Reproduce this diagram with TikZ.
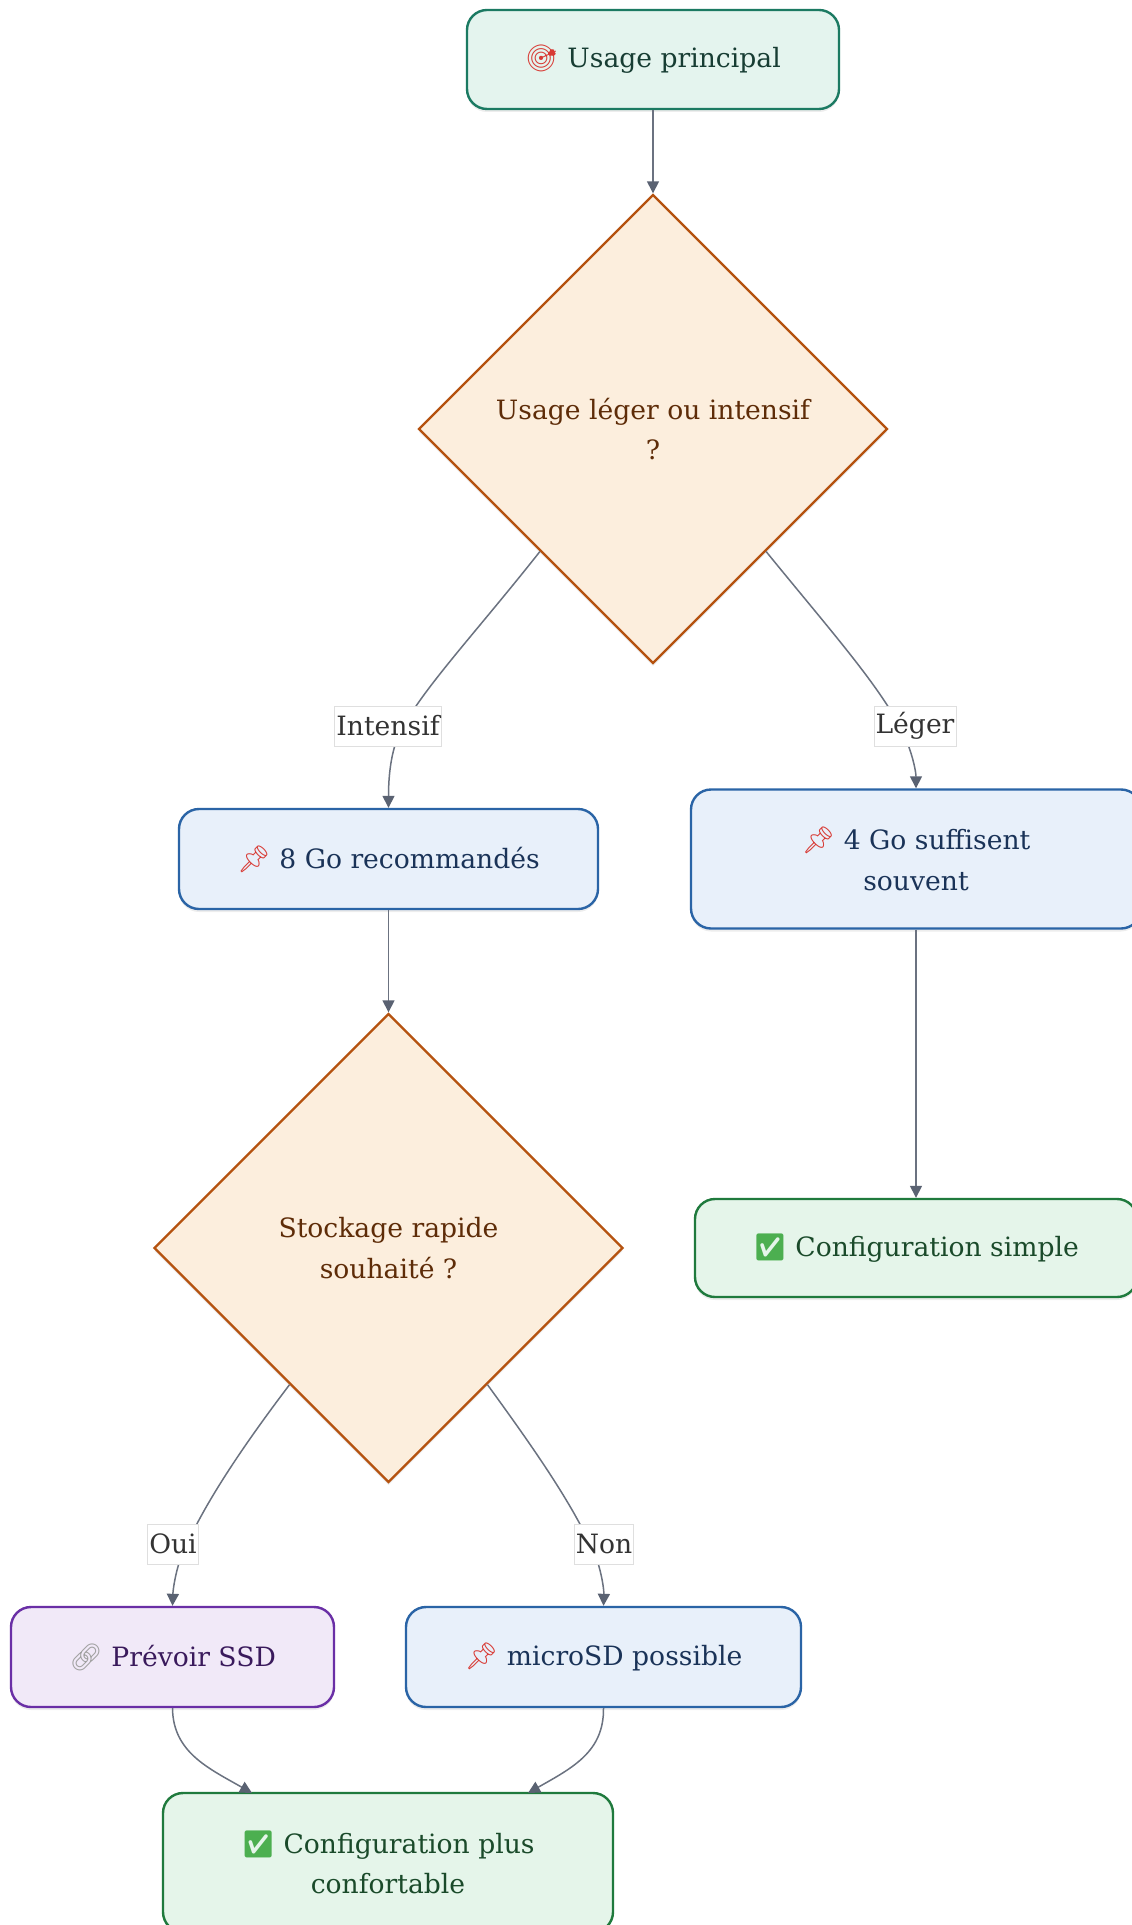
\documentclass[tikz,border=0pt]{standalone}
\usepackage{fontspec}
\setmainfont{DejaVu Serif}
\newfontfamily\emojifont{Noto Emoji}
\usetikzlibrary{shapes.geometric,arrows.meta,calc,shadows}
\definecolor{tealB}{HTML}{1B7A62}\definecolor{tealF}{HTML}{E4F4EE}\definecolor{tealT}{HTML}{173D33}
\definecolor{orB}{HTML}{B5520F}\definecolor{orF}{HTML}{FCEEDD}\definecolor{orT}{HTML}{5E2C08}
\definecolor{blB}{HTML}{2A64A6}\definecolor{blF}{HTML}{E8F0FA}\definecolor{blT}{HTML}{1A3358}
\definecolor{puB}{HTML}{6A2FA6}\definecolor{puF}{HTML}{F1E9F8}\definecolor{puT}{HTML}{3A1A5C}
\definecolor{grB}{HTML}{1F7A3D}\definecolor{grF}{HTML}{E5F5EA}\definecolor{grT}{HTML}{1A4A2A}
\definecolor{edgeC}{HTML}{6B7280}\definecolor{tipC}{HTML}{5A6272}
\definecolor{emRed}{HTML}{D83A34}\definecolor{emGreen}{HTML}{4CAF50}\definecolor{emGray}{HTML}{A0A0A0}
\newcommand\mainsize{\fontsize{13.3}{20.3}\selectfont}
\newcommand\emTarget{{\emojifont\textcolor{emRed}{🎯}}}
\newcommand\emPin{{\emojifont\textcolor{emRed}{📌}}}
\newcommand\emCheck{{\emojifont\textcolor{emGreen}{✅}}}
\newcommand\emLink{{\emojifont\textcolor{emGray}{🔗}}}
\begin{document}
\begin{tikzpicture}[x=0.5pt,y=-0.5pt,
  softshadow/.style={drop shadow={shadow xshift=0pt,shadow yshift=-1.5pt,opacity=0.07,fill=black}},
  box/.style={rectangle,rounded corners=10pt,line width=1.2pt,align=center,font=\mainsize,inner sep=3pt,softshadow},
  decision/.style={diamond,aspect=1,minimum width=234.5pt,minimum height=234.5pt,inner sep=0pt,
    line width=1.2pt,draw=orB,fill=orF,text=orT,align=center,font=\mainsize,softshadow},
  tealbox/.style={box,draw=tealB,fill=tealF,text=tealT},
  bluebox/.style={box,draw=blB,fill=blF,text=blT},
  purplebox/.style={box,draw=puB,fill=puF,text=puT},
  greenbox/.style={box,draw=grB,fill=grF,text=grT},
  edge/.style={draw=edgeC,line width=0.75pt,-{Triangle[length=6pt,width=6pt,fill=tipC,color=tipC]}},
  elabel/.style={draw=gray!25,line width=0.4pt,fill=white,text=black!80,font=\mainsize,inner xsep=0.8pt,inner ysep=2pt,minimum height=20pt}
]
\useasboundingbox[fill=white] (0,0) rectangle (1131,1925);

\node[tealbox,minimum width=186pt,minimum height=49.5pt] (top) at (653,59.5) {\emTarget{} Usage principal};
\node[decision] (d1) at (653,429) {Usage léger ou intensif\\?};
\node[bluebox,minimum width=209.5pt,minimum height=50pt] (n8) at (388.5,859) {\emPin{} 8 Go recommandés};
\node[bluebox,minimum width=225pt,minimum height=69.5pt] (n4) at (916,859) {\emPin{} 4 Go suffisent\\souvent};
\node[decision] (d2) at (388.5,1248) {Stockage rapide\\souhaité ?};
\node[greenbox,minimum width=221pt,minimum height=49pt] (cs) at (916,1248) {\emCheck{} Configuration simple};
\node[purplebox,minimum width=161.5pt,minimum height=50pt] (ssd) at (172.5,1657) {\emLink{} Prévoir SSD};
\node[bluebox,minimum width=197.5pt,minimum height=50pt] (ms) at (603.5,1657) {\emPin{} microSD possible};
\node[greenbox,minimum width=225pt,minimum height=69.5pt] (cp) at (388,1862.5) {\emCheck{} Configuration plus\\confortable};

\coordinate (d1l) at ($(d1.west)!0.52!(d1.south)$);
\coordinate (d1r) at ($(d1.east)!0.52!(d1.south)$);
\coordinate (d2l) at ($(d2.west)!0.58!(d2.south)$);
\coordinate (d2r) at ($(d2.east)!0.58!(d2.south)$);
\coordinate (cpl) at (252,1793);
\coordinate (cpr) at (528,1793);

\draw[edge] (top.south) -- (d1.north);
\draw[edge] (d1l) .. controls (470,640) and (412,700) .. (396,742) .. controls (390,760) and (388.5,780) .. (n8.north);
\draw[edge] (d1r) .. controls (834,635) and (888,695) .. (907,742) .. controls (913,757) and (916,772) .. (n4.north);
\draw[edge] (n8.south) -- (d2.north);
\draw[edge] (n4.south) -- (cs.north);
\draw[edge] (d2l) .. controls (240,1450) and (200,1510) .. (180,1560) .. controls (175,1575) and (173,1590) .. (ssd.north);
\draw[edge] (d2r) .. controls (535,1450) and (577,1510) .. (597,1560) .. controls (602,1575) and (604,1590) .. (ms.north);
\draw[edge] (ssd.south) .. controls (173,1752) and (208,1768) .. (cpl);
\draw[edge] (ms.south) .. controls (604,1752) and (572,1768) .. (cpr);

\node[elabel] (lint) at (388,726) {Intensif};
\node[elabel] (lleg) at (915,726) {Léger};
\node[elabel] (loui) at (173,1544) {Oui};
\node[elabel] (lnon) at (604,1544) {Non};
\end{tikzpicture}
\end{document}
